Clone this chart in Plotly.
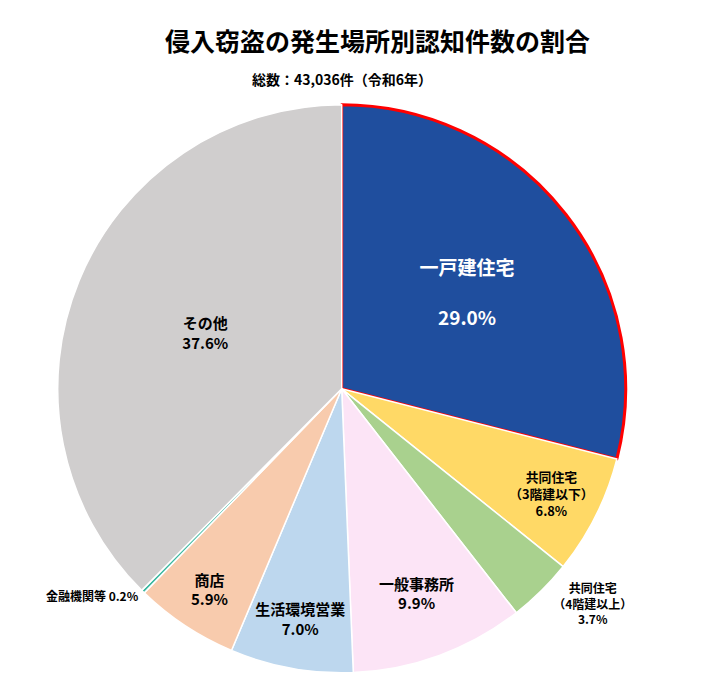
import plotly.graph_objects as go

labels = ["一戸建住宅", "共同住宅<br>（3階建以下）", "共同住宅<br>（4階建以上）", "一般事務所",
          "生活環境営業", "商店", "金融機関等", "その他"]
values = [29.0, 6.8, 3.7, 9.9, 7.0, 5.9, 0.2, 37.6]
colors = ["#1F4E9E", "#FFD966", "#A9D18E", "#FCE4F6", "#BDD7EE", "#F8CBAD", "#3CB8A0", "#D0CECE"]

texts = [f"<b>{l}<br>{v:.1f}%</b>" for l, v in zip(labels, values)]
texts[0] = f"<b>{labels[0]}<br><br>{values[0]:.1f}%</b>"
texts[6] = f"<b>{labels[6]} {values[6]:.1f}%</b>"
positions = ["inside", "inside", "outside", "inside", "inside", "inside", "outside", "inside"]
sizes = [19, 13, 12, 15, 15, 15, 12, 15]
text_colors = ["white"] + ["black"] * 7
line_colors = ["red"] + ["white"] * 7
line_widths = [3] + [1.5] * 7

fig = go.Figure(go.Pie(
    labels=labels, values=values, text=texts, textinfo="text",
    textposition=positions, sort=False, direction="clockwise", rotation=0,
    marker=dict(colors=colors, line=dict(color=line_colors, width=line_widths)),
    textfont=dict(size=sizes, color=text_colors),
    insidetextorientation="horizontal",
    domain=dict(x=[0.07, 0.87], y=[0.0, 0.865]),
    showlegend=False,
))

fig.update_layout(
    width=710, height=681,
    margin=dict(l=0, r=0, t=0, b=0),
    paper_bgcolor="white",
    font=dict(family="Noto Sans CJK JP", color="black"),
    annotations=[
        dict(text="<b>侵入窃盗の発生場所別認知件数の割合</b>", x=0.52, y=1 - 32 / 681,
             yanchor="middle", xref="paper", yref="paper", showarrow=False, font=dict(size=25)),
        dict(text="<b>総数：43,036件（令和6年）</b>", x=0.47, y=1 - 72 / 681,
             yanchor="middle", xref="paper", yref="paper", showarrow=False, font=dict(size=14)),
    ],
)

fig.write_html("out.html")
